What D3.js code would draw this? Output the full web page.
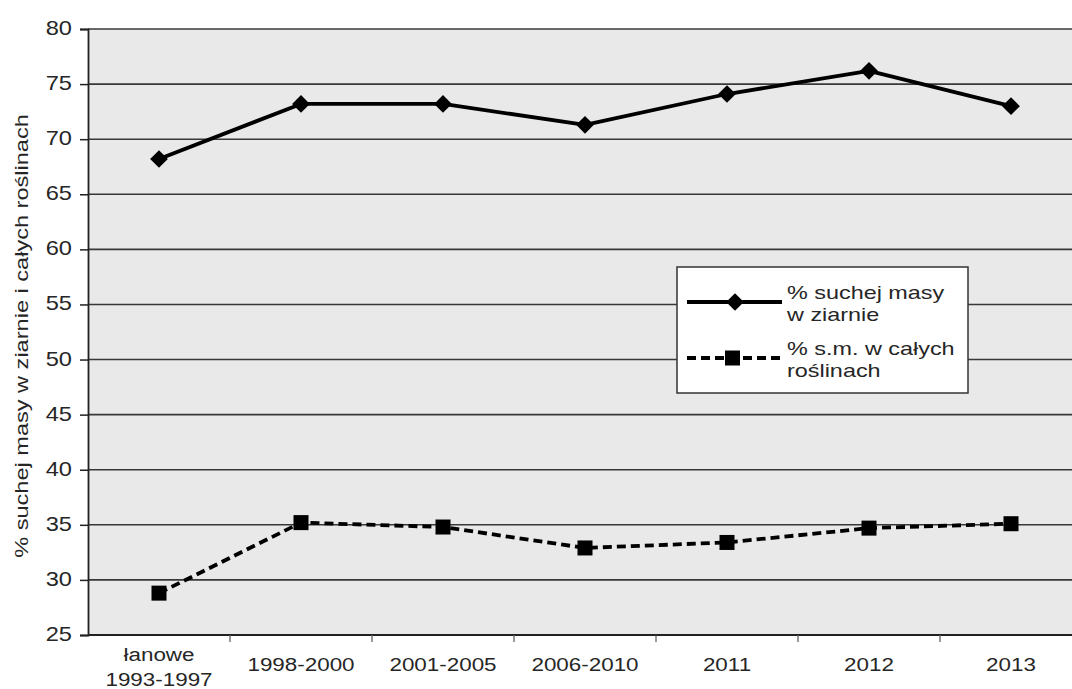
<!DOCTYPE html>
<html>
<head>
<meta charset="utf-8">
<script src="https://cdn.jsdelivr.net/npm/d3@7/dist/d3.min.js"></script>
<style>
  html, body { margin: 0; padding: 0; background: #fff; }
  svg { display: block; }
  text { font-family: "Liberation Sans", Arial, sans-serif; fill: #262626; }
</style>
</head>
<body>
<svg id="chart" width="1072" height="689"></svg>
<script>
// Categories (first label wraps onto two lines)
const categories = ["łanowe\n1993-1997", "1998-2000", "2001-2005", "2006-2010", "2011", "2012", "2013"];
// % dry matter in grain
const grainDM = [68.2, 73.2, 73.2, 71.3, 74.1, 76.2, 73.0];
// % dry matter in whole plants
const wholePlantDM = [28.8, 35.2, 34.8, 32.9, 33.4, 34.7, 35.1];
const yTicks = [25, 30, 35, 40, 45, 50, 55, 60, 65, 70, 75, 80];
const seriesNames = ["% suchej masy\nw ziarnie", "% s.m. w całych\nroślinach"];
const yTitle = "% suchej masy w ziarnie i całych roślinach";

const svg = d3.select("#chart");
const plotLeft = 88, plotRight = 1082, plotTop = 29, plotBottom = 635;
const stretch = 1.18;   // wide lettering of the labels

const x = d3.scaleBand().domain(categories).range([plotLeft, plotRight]);
const y = d3.scaleLinear().domain([25, 80]).range([plotBottom, plotTop]);

// plot background
svg.append("rect")
  .attr("x", plotLeft).attr("y", plotTop)
  .attr("width", plotRight - plotLeft).attr("height", plotBottom - plotTop)
  .attr("fill", "#e9e9e9");

// horizontal gridlines
svg.append("g").selectAll("line").data(yTicks).join("line")
  .attr("x1", plotLeft).attr("x2", plotRight)
  .attr("y1", d => y(d)).attr("y2", d => y(d))
  .attr("stroke", "#383838").attr("stroke-width", 1.6);

// y axis line and ticks
const yAxis = svg.append("g")
  .attr("transform", `translate(${plotLeft},0)`)
  .call(d3.axisLeft(y).tickValues(yTicks).tickSize(8).tickFormat(""));
yAxis.select(".domain").attr("stroke", "#222").attr("stroke-width", 1.8);
yAxis.selectAll(".tick line").attr("stroke", "#222").attr("stroke-width", 1.5);

// y tick labels
svg.append("g").selectAll("text").data(yTicks).join("text")
  .attr("text-anchor", "end")
  .attr("dy", "0.35em")
  .attr("transform", d => `translate(72,${y(d) - 1}) scale(${stretch},1)`)
  .style("font-size", "20px")
  .text(d => d);

// x axis with ticks at category boundaries
const xAxisG = svg.append("g").attr("transform", `translate(0,${plotBottom})`);
xAxisG.append("line").attr("x1", plotLeft).attr("x2", plotRight)
  .attr("stroke", "#222").attr("stroke-width", 1.8);
xAxisG.selectAll("line.tk").data(categories.slice(1)).join("line")
  .attr("class", "tk")
  .attr("x1", d => x(d)).attr("x2", d => x(d))
  .attr("y1", 0).attr("y2", 7)
  .attr("stroke", "#555").attr("stroke-width", 1.2);
xAxisG.selectAll("text").data(categories).join("text")
  .attr("text-anchor", "middle")
  .attr("transform", d => `translate(${x(d) + x.bandwidth() / 2},0) scale(${stretch},1)`)
  .style("font-size", "19px")
  .each(function(d) {
    const lines = d.split("\n");
    const y0 = lines.length > 1 ? 26 : 36;
    d3.select(this).selectAll("tspan").data(lines).join("tspan")
      .attr("x", 0)
      .attr("y", (l, i) => y0 + i * 25)
      .text(l => l);
  });

// y axis title
svg.append("text")
  .attr("transform", `translate(28,${(plotTop + plotBottom) / 2 + 4}) rotate(-90) scale(1.24,1)`)
  .attr("text-anchor", "middle")
  .style("font-size", "19px")
  .text(yTitle);

const cx = d => x(d) + x.bandwidth() / 2;
const line = d3.line().x(d => cx(d[0])).y(d => y(d[1]));

// grain series: solid line with diamonds
const grainPts = categories.map((c, i) => [c, grainDM[i]]);
svg.append("path").datum(grainPts)
  .attr("d", line).attr("fill", "none")
  .attr("stroke", "#000").attr("stroke-width", 3.8)
  .attr("stroke-linejoin", "round");
const diamond = d3.symbol().type(d3.symbolDiamond2).size(200);
svg.append("g").selectAll("path").data(grainPts).join("path")
  .attr("d", diamond)
  .attr("transform", d => `translate(${cx(d[0])},${y(d[1])})`)
  .attr("fill", "#000");

// whole plant series: dashed line with squares
const plantPts = categories.map((c, i) => [c, wholePlantDM[i]]);
svg.append("path").datum(plantPts)
  .attr("d", line).attr("fill", "none")
  .attr("stroke", "#000").attr("stroke-width", 3.8)
  .attr("stroke-dasharray", "9,5");
svg.append("g").selectAll("rect").data(plantPts).join("rect")
  .attr("x", d => cx(d[0]) - 7.5).attr("y", d => y(d[1]) - 7.5)
  .attr("width", 15).attr("height", 15)
  .attr("fill", "#000");

// legend
const lg = svg.append("g").attr("transform", "translate(677,267)");
lg.append("rect").attr("width", 291).attr("height", 126)
  .attr("fill", "#fff").attr("stroke", "#333").attr("stroke-width", 1.5);
const legendRows = [
  { name: seriesNames[0], y: 35, dash: null, marker: "diamond" },
  { name: seriesNames[1], y: 91, dash: "9,5", marker: "square" }
];
legendRows.forEach(r => {
  lg.append("line").attr("x1", 10).attr("x2", 105)
    .attr("y1", r.y).attr("y2", r.y)
    .attr("stroke", "#000").attr("stroke-width", 3.8)
    .attr("stroke-dasharray", r.dash);
  if (r.marker === "diamond") {
    lg.append("path").attr("d", diamond)
      .attr("transform", `translate(58,${r.y})`).attr("fill", "#000");
  } else {
    lg.append("rect").attr("x", 48).attr("y", r.y - 7.5)
      .attr("width", 15).attr("height", 15).attr("fill", "#000");
  }
  const t = lg.append("text")
    .attr("transform", `translate(110,0) scale(1.3,1)`)
    .style("font-size", "18px");
  r.name.split("\n").forEach((l, i) => {
    t.append("tspan").attr("x", 0).attr("y", r.y - 3 + i * 22).text(l);
  });
});
</script>
</body>
</html>
